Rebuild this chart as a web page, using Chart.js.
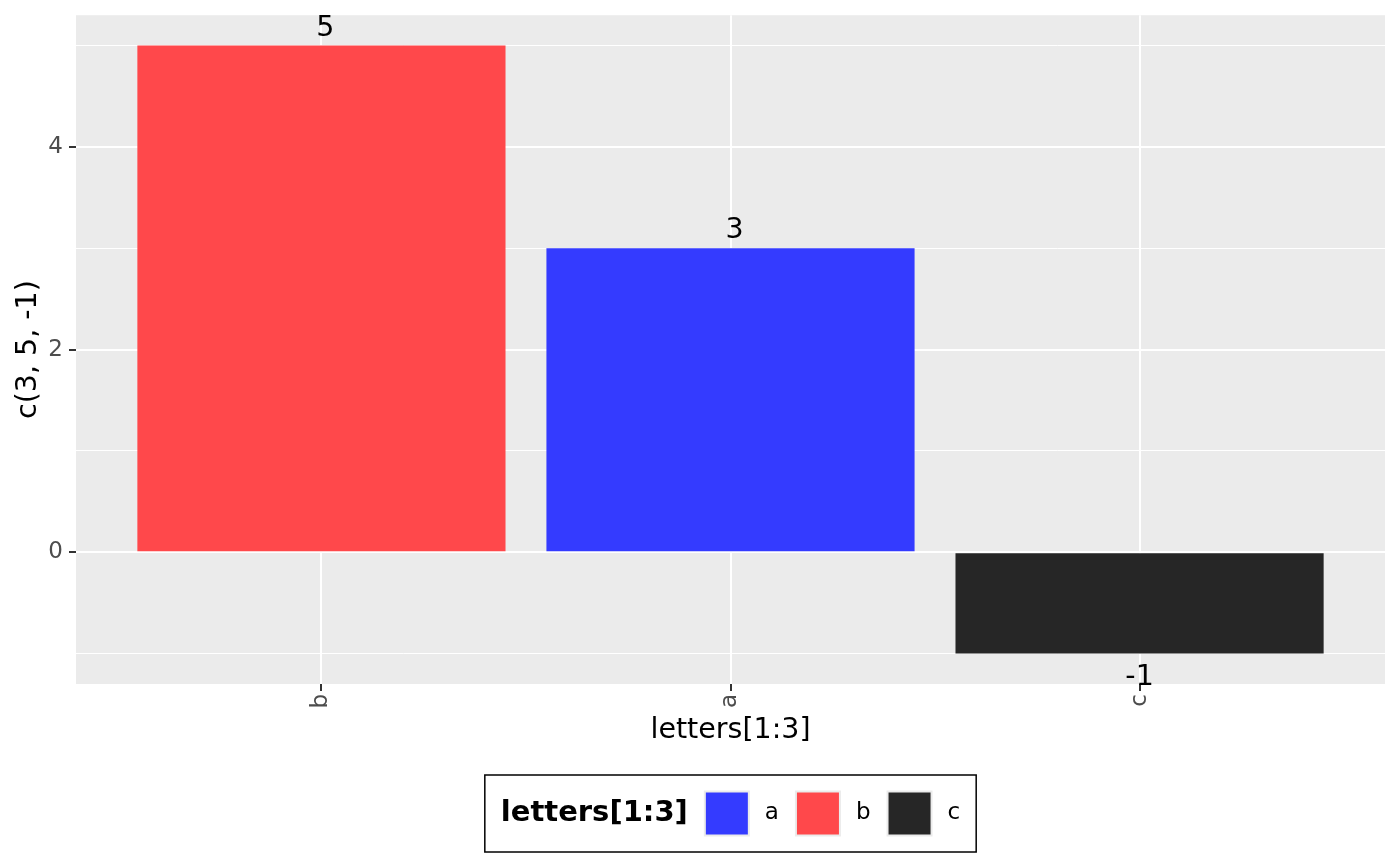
<!DOCTYPE html>
<html>
<head>
<meta charset="utf-8">
<script src="https://cdn.jsdelivr.net/npm/chart.js@4"></script>
<style>
  html, body { margin: 0; padding: 0; background: #fff; }
  canvas { display: block; }
</style>
</head>
<body>
<canvas id="chart" width="1400" height="866"></canvas>
<script>
const categories = ['b', 'a', 'c'];
const values = [5, 3, -1];
const barColors = ['#FF484B', '#343BFF', '#262626'];
const legendLabels = ['a', 'b', 'c'];
const legendColors = ['#343BFF', '#FF484B', '#262626'];
const yTicks = [-1, 0, 1, 2, 3, 4, 5];
const yLabeled = [0, 2, 4];

const FONT = '"DejaVu Sans", sans-serif';

// grey panel behind the grid
const panelBg = {
    id: 'panelBg',
    beforeDraw(chart) {
        const { ctx, chartArea: a } = chart;
        ctx.save();
        ctx.fillStyle = '#EBEBEB';
        ctx.fillRect(a.left, a.top, a.right - a.left, a.bottom - a.top);
        ctx.restore();
    }
};

// numbers on the bars
const barLabels = {
    id: 'barLabels',
    afterDatasetsDraw(chart) {
        const { ctx } = chart;
        const meta = chart.getDatasetMeta(0);
        ctx.save();
        ctx.font = '28.5px ' + FONT;
        ctx.fillStyle = '#000';
        ctx.textAlign = 'center';
        ctx.textBaseline = 'alphabetic';
        meta.data.forEach((bar, i) => {
            const v = values[i];
            const y = v >= 0 ? bar.y - 10 : bar.y + 31;
            ctx.fillText(String(v), bar.x + (v >= 0 ? 4 : 0), y);
        });
        ctx.restore();
    }
};

// boxed legend under the plot
const boxLegend = {
    id: 'boxLegend',
    afterDraw(chart) {
        const { ctx, chartArea: a } = chart;
        const title = 'letters[1:3]';
        const key = 46;
        ctx.save();
        ctx.font = 'bold 29px ' + FONT;
        const titleW = ctx.measureText(title).width;
        ctx.font = '23px ' + FONT;
        const labelW = legendLabels.map(l => ctx.measureText(l).width);
        let w = 16 + titleW + 16;
        labelW.forEach(lw => { w += key + 15 + lw + 16; });
        const h = 77;
        const x0 = (a.left + a.right) / 2 - w / 2;
        const y0 = 775;
        ctx.fillStyle = '#fff';
        ctx.fillRect(x0, y0, w, h);
        ctx.strokeStyle = '#000';
        ctx.lineWidth = 1.5;
        ctx.strokeRect(x0, y0, w, h);
        const cy = y0 + h / 2;
        ctx.fillStyle = '#000';
        ctx.textBaseline = 'middle';
        ctx.textAlign = 'left';
        ctx.font = 'bold 29px ' + FONT;
        ctx.fillText(title, x0 + 16, cy);
        let x = x0 + 16 + titleW + 16;
        ctx.font = '23px ' + FONT;
        legendLabels.forEach((l, i) => {
            ctx.fillStyle = '#EBEBEB';
            ctx.fillRect(x, cy - key / 2, key, key);
            ctx.fillStyle = legendColors[i];
            ctx.fillRect(x + 2, cy - key / 2 + 2, key - 4, key - 4);
            x += key + 15;
            ctx.fillStyle = '#000';
            ctx.fillText(l, x, cy);
            x += labelW[i] + 16;
        });
        ctx.restore();
    }
};

new Chart(document.getElementById('chart'), {
    type: 'bar',
    data: {
        datasets: [{
            data: categories.map((c, i) => ({ x: i + 1, y: values[i] })),
            backgroundColor: barColors,
            borderWidth: 0,
            barPercentage: 0.9,
            categoryPercentage: 1
        }]
    },
    options: {
        responsive: false,
        devicePixelRatio: 1,
        animation: false,
        layout: { padding: { left: 0, top: 15, right: 15, bottom: 106 } },
        plugins: {
            legend: { display: false },
            tooltip: { enabled: false }
        },
        scales: {
            x: {
                type: 'linear',
                offset: false,
                min: 0.4,
                max: 3.6,
                afterBuildTicks: s => { s.ticks = categories.map((c, i) => ({ value: i + 1 })); },
                afterFit: s => { s.height = 76; },
                ticks: {
                    callback: v => categories[v - 1],
                    minRotation: 90,
                    maxRotation: 90,
                    padding: 3,
                    color: '#4D4D4D',
                    font: { family: FONT, size: 23 }
                },
                grid: {
                    offset: false,
                    color: '#FFFFFF',
                    lineWidth: 2,
                    tickColor: '#333333',
                    tickLength: 7,
                    tickWidth: 2
                },
                border: { display: false },
                title: {
                    display: true,
                    text: 'letters[1:3]',
                    color: '#000',
                    font: { family: FONT, size: 28.5, lineHeight: 1.2 },
                    padding: { top: 0, bottom: 12 }
                }
            },
            y: {
                min: -1.3,
                max: 5.3,
                afterBuildTicks: s => { s.ticks = yTicks.map(v => ({ value: v })); },
                afterFit: s => { s.width = 76; },
                ticks: {
                    callback: v => yLabeled.includes(v) ? String(v) : '',
                    padding: 6,
                    color: '#4D4D4D',
                    font: { family: FONT, size: 23, lineHeight: 0.8 }
                },
                grid: {
                    color: '#FFFFFF',
                    lineWidth: c => yLabeled.includes(c.tick.value) ? 2 : 1,
                    tickColor: c => yLabeled.includes(c.tick.value) ? '#333333' : 'rgba(0,0,0,0)',
                    tickLength: 7,
                    tickWidth: 2
                },
                border: { display: false },
                title: {
                    display: true,
                    text: 'c(3, 5, -1)',
                    color: '#000',
                    font: { family: FONT, size: 28.5, lineHeight: 1.2 },
                    padding: { top: 11, bottom: 0 }
                }
            }
        }
    },
    plugins: [panelBg, barLabels, boxLegend]
});
</script>
</body>
</html>
